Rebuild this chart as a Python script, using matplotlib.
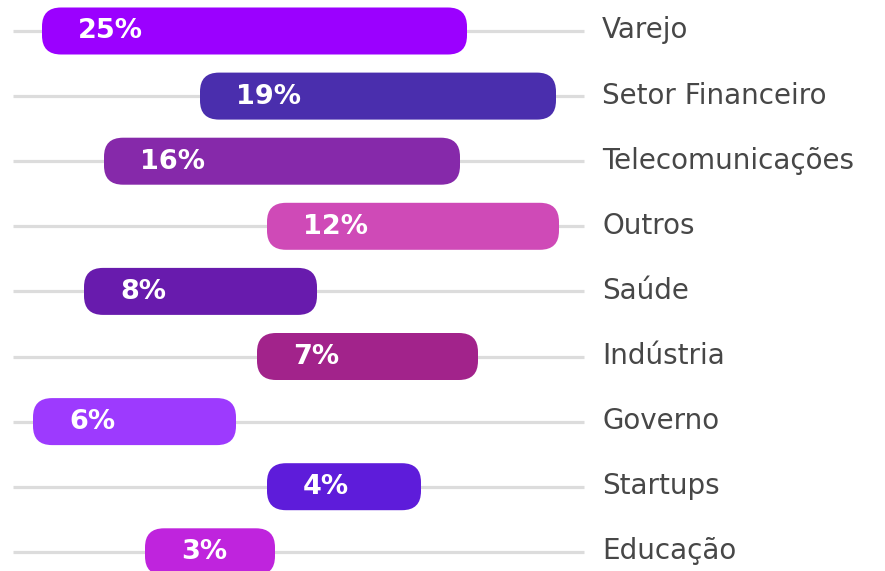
import matplotlib
matplotlib.use("Agg")
import matplotlib.pyplot as plt
from matplotlib.patches import FancyBboxPatch

categories = ["Varejo", "Setor Financeiro", "Telecomunicações", "Outros", "Saúde",
              "Indústria", "Governo", "Startups", "Educação"]
values = [25, 19, 16, 12, 8, 7, 6, 4, 3]
bar_start = [42, 200, 104, 267, 84, 257, 33, 267, 145]
bar_end = [467, 556, 460, 559, 317, 478, 236, 421, 275]
colors = ["#9B00FF", "#4A2EAD", "#8629AA", "#CF4AB7", "#681BAD",
          "#A2238B", "#9D3AFE", "#5E1CDA", "#BF24DD"]

W, H = 885, 571
row_px = 65.1
top_px = 31
fig = plt.figure(figsize=(W / 100, H / 100), dpi=100)
ax = fig.add_axes([0, 0, 1, 1])
ax.set_xlim(0, W)
ax.set_ylim((H - top_px) / row_px, -top_px / row_px)
ax.axis("off")

bar_h = 47 / row_px
radius = 19
for i, (cat, v, s, e, c) in enumerate(zip(categories, values, bar_start, bar_end, colors)):
    ax.plot([13, 584], [i, i], color="#DCDCDC", lw=2.3, solid_capstyle="butt", zorder=1)
    patch = FancyBboxPatch((s, i - bar_h / 2), e - s, bar_h,
                           boxstyle=f"round,pad=0,rounding_size={radius}",
                           mutation_aspect=1 / row_px,
                           facecolor=c, edgecolor="none", zorder=2)
    ax.add_patch(patch)
    ax.text(s + 36, i + 7.5 / row_px, f"{v}%", color="white", fontsize=19.5,
            fontweight="heavy", ha="left", va="baseline", zorder=3)
    ax.text(602, i + 7.5 / row_px, cat, color="#474747", fontsize=20, ha="left",
            va="baseline", zorder=3)

fig.savefig("out.png", dpi=100, facecolor="white")
